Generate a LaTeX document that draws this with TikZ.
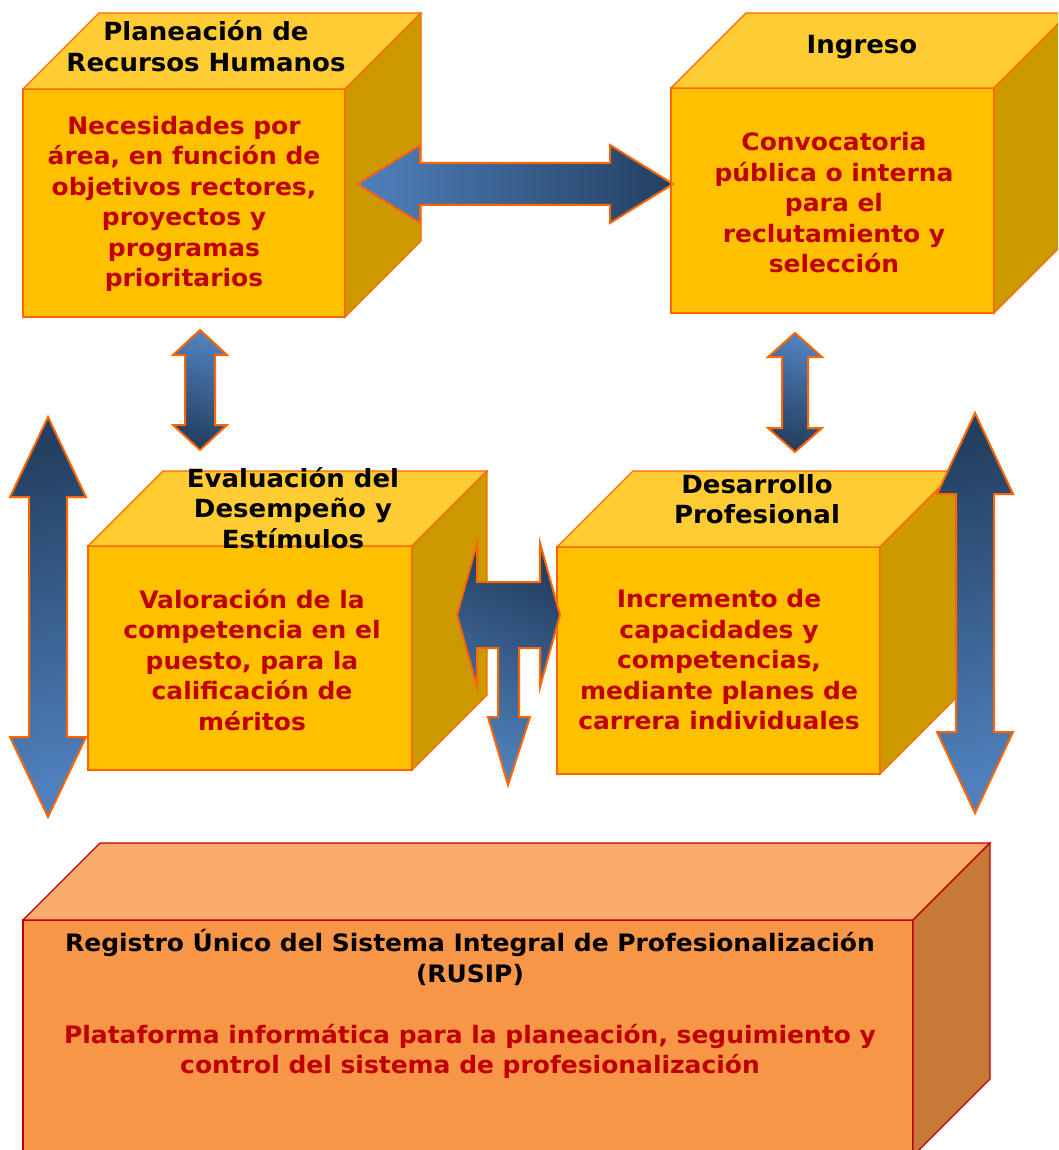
\documentclass[tikz,border=0pt]{standalone}
\usepackage{fontspec}
\setmainfont{DejaVu Sans}[FakeStretch=1.04]
\usetikzlibrary{positioning,calc}

\definecolor{frontyel}{HTML}{FFC000}
\definecolor{topyel}{HTML}{FFCC33}
\definecolor{sideyel}{HTML}{CC9900}
\definecolor{edgeorg}{HTML}{FF6600}
\definecolor{frontorg}{HTML}{F79646}
\definecolor{toporg}{HTML}{F9AC6B}
\definecolor{sideorg}{HTML}{C77A38}
\definecolor{edgered}{HTML}{C00000}
\definecolor{txtred}{HTML}{C00000}
\definecolor{bluelight}{HTML}{4F81BD}
\definecolor{bluedark}{HTML}{243F60}

\tikzset{
  yel front/.style={fill=frontyel, draw=edgeorg, line width=1.2pt},
  yel top/.style={fill=topyel, draw=edgeorg, line width=1.2pt},
  yel side/.style={fill=sideyel, draw=edgeorg, line width=1.2pt},
  org front/.style={fill=frontorg, draw=edgered, line width=1.2pt},
  org top/.style={fill=toporg, draw=edgered, line width=1.2pt},
  org side/.style={fill=sideorg, draw=edgered, line width=1.2pt},
  boxtitle/.style={align=center, text=black,
    font=\fontsize{25}{30.5}\selectfont\bfseries},
  boxtext/.style={align=center, text=txtred,
    font=\fontsize{24}{30.5}\selectfont\bfseries},
  blockarrow/.style={draw=edgeorg, line width=2pt, line join=miter},
}

% front face from (#1,#2) to (#3,#4), depth #5, colour set #6
\newcommand{\cuboid}[6]{%
  \draw[#6 front] (#1,#2) rectangle (#3,#4);
  \draw[#6 top] (#1,#2) -- (#1+#5,#2-#5) -- (#3+#5,#2-#5) -- (#3,#2) -- cycle;
  \draw[#6 side] (#3,#2) -- (#3+#5,#2-#5) -- (#3+#5,#4-#5) -- (#3,#4) -- cycle;
}

% vertical double arrow between tips #1 and #2: head half width #3, shaft half width #4, head length #5
\newcommand{\vdouble}[6]{%
  \draw[blockarrow, #6] (#1) -- ($(#1)+(#3,#5)$) -- ($(#1)+(#4,#5)$)
    -- ($(#2)+(#4,-#5)$) -- ($(#2)+(#3,-#5)$) -- (#2)
    -- ($(#2)+(-#3,-#5)$) -- ($(#2)+(-#4,-#5)$)
    -- ($(#1)+(-#4,#5)$) -- ($(#1)+(-#3,#5)$) -- cycle;
}
% horizontal double arrow between tips #1 (left) and #2 (right)
\newcommand{\hdouble}[6]{%
  \draw[blockarrow, #6] (#1) -- ($(#1)+(#5,-#3)$) -- ($(#1)+(#5,-#4)$)
    -- ($(#2)+(-#5,-#4)$) -- ($(#2)+(-#5,-#3)$) -- (#2)
    -- ($(#2)+(-#5,#3)$) -- ($(#2)+(-#5,#4)$)
    -- ($(#1)+(#5,#4)$) -- ($(#1)+(#5,#3)$) -- cycle;
}

\begin{document}
\begin{tikzpicture}[x=1pt, y=-1pt]
  \useasboundingbox (0,0) rectangle (1058,1150);
  \clip (0,0) rectangle (1058,1150);

  % the four stages
  \cuboid{23}{89}{345}{317}{76}{yel}
  \cuboid{671}{88}{994}{313}{75}{yel}
  \cuboid{88}{546}{412}{770}{75}{yel}
  \cuboid{557}{547}{880}{774}{76}{yel}
  % register underneath
  \cuboid{23}{920}{913}{1156}{77}{org}

  \node[boxtitle] (planT) at (206,46) {Planeación de\\Recursos Humanos};
  \node[boxtext] (plan) at (184,204) {Necesidades por\\área, en función de\\objetivos rectores,\\proyectos y\\programas\\prioritarios};

  \node[boxtitle] (ingT) at (862,47) {Ingreso};
  \node[boxtext] (ing) at (834,203) {Convocatoria\\pública o interna\\para el\\reclutamiento y\\selección};

  \node[boxtitle] (evalT) at (293,508) {Evaluación del\\Desempeño y\\Estímulos};
  \node[boxtext] (eval) at (252,660) {Valoración de la\\competencia en el\\puesto, para la\\calificación de\\méritos};

  \node[boxtitle] (desT) at (757,499) {Desarrollo\\Profesional};
  \node[boxtext] (des) at (719,660) {Incremento de\\capacidades y\\competencias,\\mediante planes de\\carrera individuales};

  \node[boxtext, text=black] (rusip) at (470,1004)
    {Registro Único del Sistema Integral de Profesionalización\\(RUSIP)\\[30.5pt]
     \textcolor{txtred}{Plataforma informática para la planeación, seguimiento y}\\
     \textcolor{txtred}{control del sistema de profesionalización}};

  % arrow tips
  \coordinate (a1) at (357,184);
  \coordinate (a2) at (673,184);
  \coordinate (b1) at (200,330);
  \coordinate (b2) at (200,450);
  \coordinate (c1) at (795,333);
  \coordinate (c2) at (795,452);
  \coordinate (d1) at (48,417);
  \coordinate (d2) at (48,817);
  \coordinate (e1) at (975,413);
  \coordinate (e2) at (975,813);

  \hdouble{a1}{a2}{39}{21}{63}{left color=bluelight, right color=bluedark}
  \vdouble{b1}{b2}{27}{15}{25}{top color=bluelight, bottom color=bluedark, shading angle=-20}
  \vdouble{c1}{c2}{27}{13}{24}{top color=bluelight, bottom color=bluedark, shading angle=-20}
  \vdouble{d1}{d2}{38}{19}{80}{top color=bluedark, bottom color=bluelight, shading angle=15}
  \vdouble{e1}{e2}{38}{19}{81}{top color=bluedark, bottom color=bluelight, shading angle=15}

  % left-right-down arrow between evaluation and development
  \draw[blockarrow, top color=bluedark, bottom color=bluelight, shading angle=-25]
    (457,615) -- (477,543) -- (477,582) -- (540,582) -- (540,543) -- (560,615)
    -- (540,687) -- (540,648) -- (519,648) -- (519,717) -- (530,717) -- (508,785)
    -- (488,717) -- (498,717) -- (498,648) -- (477,648) -- (477,687) -- cycle;
\end{tikzpicture}
\end{document}
